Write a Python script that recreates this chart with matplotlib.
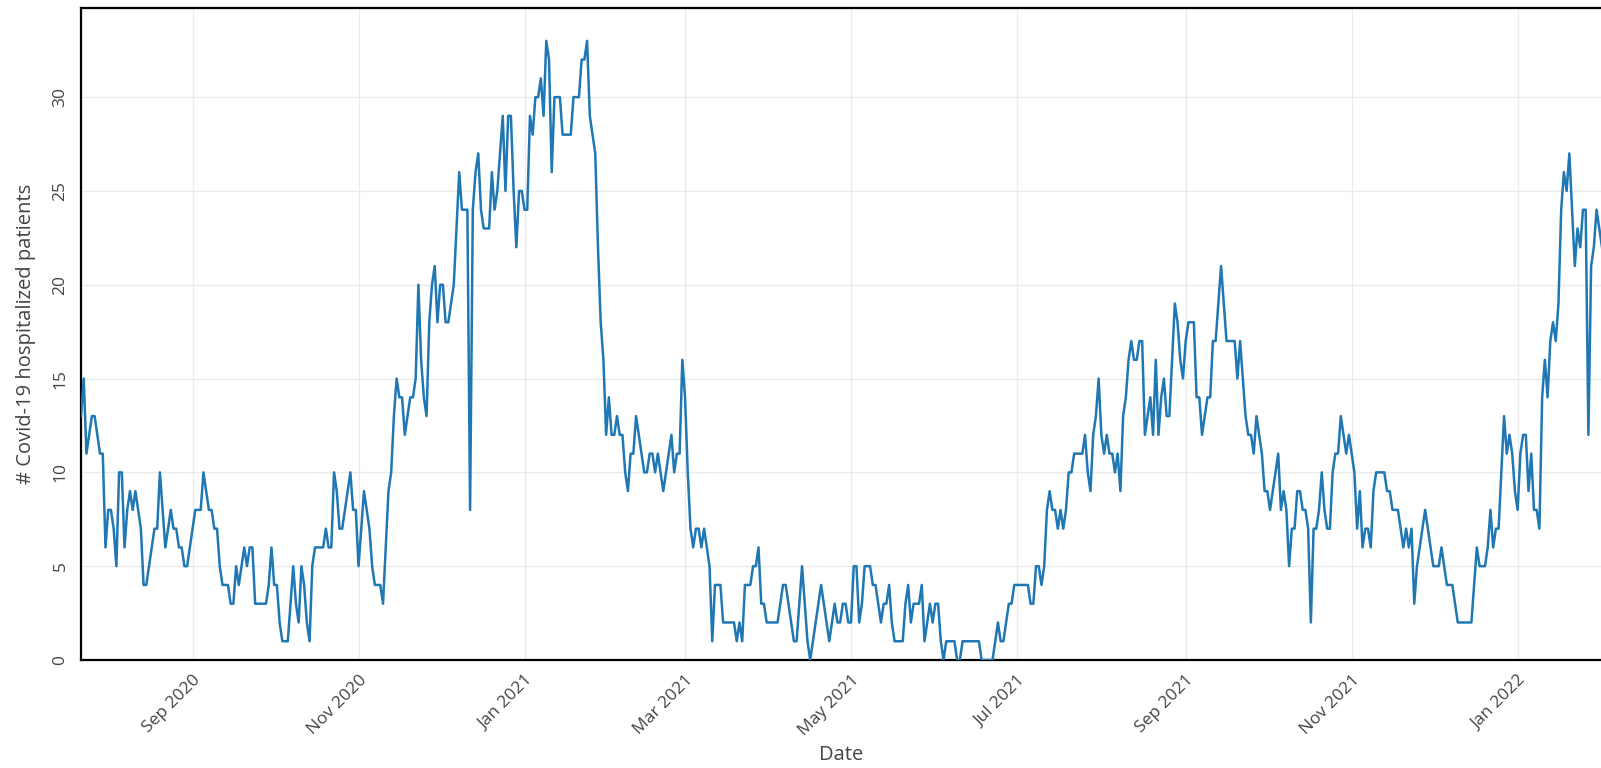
import matplotlib
matplotlib.use("Agg")
import matplotlib.pyplot as plt
import matplotlib.dates as mdates
import pandas as pd

start_date = "2020-07-22"
patients = [
    13, 15, 11, 12, 13, 13, 12, 11, 11, 6,
    8, 8, 7, 5, 10, 10, 6, 8, 9, 8,
    9, 8, 7, 4, 4, 5, 6, 7, 7, 10,
    8, 6, 7, 8, 7, 7, 6, 6, 5, 5,
    6, 7, 8, 8, 8, 10, 9, 8, 8, 7,
    7, 5, 4, 4, 4, 3, 3, 5, 4, 5,
    6, 5, 6, 6, 3, 3, 3, 3, 3, 4,
    6, 4, 4, 2, 1, 1, 1, 3, 5, 3,
    2, 5, 4, 2, 1, 5, 6, 6, 6, 6,
    7, 6, 6, 10, 9, 7, 7, 8, 9, 10,
    8, 8, 5, 7, 9, 8, 7, 5, 4, 4,
    4, 3, 6, 9, 10, 13, 15, 14, 14, 12,
    13, 14, 14, 15, 20, 16, 14, 13, 18, 20,
    21, 18, 20, 20, 18, 18, 19, 20, 23, 26,
    24, 24, 24, 8, 24, 26, 27, 24, 23, 23,
    23, 26, 24, 25, 27, 29, 25, 29, 29, 25,
    22, 25, 25, 24, 24, 29, 28, 30, 30, 31,
    29, 33, 32, 26, 30, 30, 30, 28, 28, 28,
    28, 30, 30, 30, 32, 32, 33, 29, 28, 27,
    22, 18, 16, 12, 14, 12, 12, 13, 12, 12,
    10, 9, 11, 11, 13, 12, 11, 10, 10, 11,
    11, 10, 11, 10, 9, 10, 11, 12, 10, 11,
    11, 16, 14, 10, 7, 6, 7, 7, 6, 7,
    6, 5, 1, 4, 4, 4, 2, 2, 2, 2,
    2, 1, 2, 1, 4, 4, 4, 5, 5, 6,
    3, 3, 2, 2, 2, 2, 2, 3, 4, 4,
    3, 2, 1, 1, 3, 5, 3, 1, 0, 1,
    2, 3, 4, 3, 2, 1, 2, 3, 2, 2,
    3, 3, 2, 2, 5, 5, 2, 3, 5, 5,
    5, 4, 4, 3, 2, 3, 3, 4, 2, 1,
    1, 1, 1, 3, 4, 2, 3, 3, 3, 4,
    1, 2, 3, 2, 3, 3, 1, 0, 1, 1,
    1, 1, 0, 0, 1, 1, 1, 1, 1, 1,
    1, 0, 0, 0, 0, 0, 1, 2, 1, 1,
    2, 3, 3, 4, 4, 4, 4, 4, 4, 3,
    3, 5, 5, 4, 5, 8, 9, 8, 8, 7,
    8, 7, 8, 10, 10, 11, 11, 11, 11, 12,
    10, 9, 12, 13, 15, 12, 11, 12, 11, 11,
    10, 11, 9, 13, 14, 16, 17, 16, 16, 17,
    17, 12, 13, 14, 12, 16, 12, 14, 15, 13,
    13, 16, 19, 18, 16, 15, 17, 18, 18, 18,
    14, 14, 12, 13, 14, 14, 17, 17, 19, 21,
    19, 17, 17, 17, 17, 15, 17, 15, 13, 12,
    12, 11, 13, 12, 11, 9, 9, 8, 9, 10,
    11, 8, 9, 8, 5, 7, 7, 9, 9, 8,
    8, 7, 2, 7, 7, 8, 10, 8, 7, 7,
    10, 11, 11, 13, 12, 11, 12, 11, 10, 7,
    9, 6, 7, 7, 6, 9, 10, 10, 10, 10,
    9, 9, 8, 8, 8, 7, 6, 7, 6, 7,
    3, 5, 6, 7, 8, 7, 6, 5, 5, 5,
    6, 5, 4, 4, 4, 3, 2, 2, 2, 2,
    2, 2, 4, 6, 5, 5, 5, 6, 8, 6,
    7, 7, 10, 13, 11, 12, 11, 9, 8, 11,
    12, 12, 9, 11, 8, 8, 7, 14, 16, 14,
    17, 18, 17, 19, 24, 26, 25, 27, 24, 21,
    23, 22, 24, 24, 12, 21, 22, 24, 23, 22,
]
y_ticks = [0, 5, 10, 15, 20, 25, 30]
x_title = "Date"
y_title = "# Covid-19 hospitalized patients"

dates = pd.date_range(start_date, periods=len(patients), freq="D")

plt.rcParams["font.family"] = ["Open Sans", "DejaVu Sans"]

W, H = 1601, 768
fig = plt.figure(figsize=(W / 100, H / 100), dpi=100)
left_px, right_px, top_px, bottom_px = 81, 1602, 8, 660
ax = fig.add_axes([left_px / W, (H - bottom_px) / H,
                   (right_px - left_px) / W, (bottom_px - top_px) / H])

ax.plot(dates, patients, color="#1f77b4", lw=1.8, solid_joinstyle="round", zorder=3)

ax.set_xlim(dates[0], dates[-1])
ax.set_ylim(0, 34.75)

ax.xaxis.set_major_locator(mdates.MonthLocator(bymonth=[1, 3, 5, 7, 9, 11]))
ax.xaxis.set_major_formatter(mdates.DateFormatter("%b %Y"))
ax.set_yticks(y_ticks)

ax.grid(True, color="#ebebeb", lw=1.0, zorder=0)
ax.set_axisbelow(True)

for s in ["left", "top", "bottom"]:
    ax.spines[s].set_color("black")
    ax.spines[s].set_linewidth(1.6)
ax.spines["right"].set_visible(False)

ax.tick_params(axis="both", length=0, colors="#444444", labelsize=12.5)
ax.tick_params(axis="x", pad=9)
ax.tick_params(axis="y", pad=9)
for lab in ax.get_xticklabels():
    lab.set_rotation(45)
    lab.set_ha("right")
    lab.set_rotation_mode("anchor")
for lab in ax.get_yticklabels():
    lab.set_rotation(90)
    lab.set_va("center")

ax.set_xlabel(x_title, color="#444444", fontsize=14.5, labelpad=4)
ax.set_ylabel(y_title, color="#444444", fontsize=14.5, labelpad=12)

fig.savefig("out.png", dpi=100)
